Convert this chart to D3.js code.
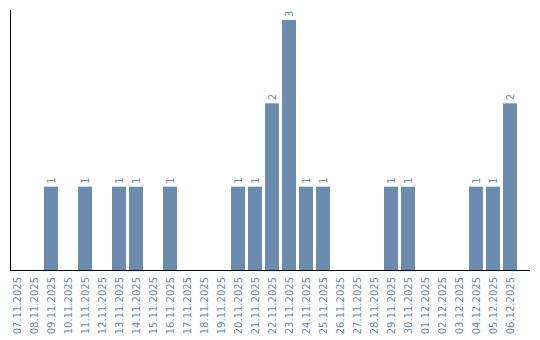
<!DOCTYPE html>
<html>
<head>
<meta charset="utf-8">
<script src="https://cdn.jsdelivr.net/npm/d3@7"></script>
<style>
  body { margin: 0; background: #fff; }
  text { font-family: "DejaVu Sans", sans-serif; font-size: 10px; fill: #6b8cae; }
</style>
</head>
<body>
<div id="chart"></div>
<script>
// dates and counts per day
var days = ["07.11.2025","08.11.2025","09.11.2025","10.11.2025","11.11.2025","12.11.2025",
  "13.11.2025","14.11.2025","15.11.2025","16.11.2025","17.11.2025","18.11.2025","19.11.2025",
  "20.11.2025","21.11.2025","22.11.2025","23.11.2025","24.11.2025","25.11.2025","26.11.2025",
  "27.11.2025","28.11.2025","29.11.2025","30.11.2025","01.12.2025","02.12.2025","03.12.2025",
  "04.12.2025","05.12.2025","06.12.2025"];
var counts = [0,0,1,0,1,0,1,1,0,1,0,0,0,1,1,2,3,1,1,0,0,0,1,1,0,0,0,1,1,2];

var width = 540, height = 340;
var barColor = "#6b8cae";

var svg = d3.select("#chart")
    .append("svg")
    .attr("width", width)
    .attr("height", height);

var x = d3.scaleBand()
    .domain(days)
    .range([10, 520])
    .paddingInner(3 / 17)
    .paddingOuter(1.5 / 17)
    .align(0);

var y = d3.scaleLinear()
    .domain([0, d3.max(counts)])
    .range([270, 20]);

var data = days.map(function(d, i) { return {day: d, value: counts[i]}; });

// bars
svg.append("g")
  .selectAll("rect")
  .data(data)
  .enter()
  .append("rect")
  .attr("x", function(d) { return x(d.day); })
  .attr("y", function(d) { return y(d.value); })
  .attr("width", x.bandwidth())
  .attr("height", function(d) { return y(0) - y(d.value); })
  .attr("fill", barColor);

// value labels (rotated, above bars)
svg.append("g")
  .selectAll("text")
  .data(data.filter(function(d) { return d.value > 0; }))
  .enter()
  .append("text")
  .attr("transform", function(d) {
      return "translate(" + (x(d.day) + x.bandwidth() / 2) + "," + (y(d.value) - 3) + ") rotate(-90)";
  })
  .attr("dy", "0.35em")
  .attr("text-anchor", "start")
  .text(function(d) { return d.value; });

// x axis tick labels
var xAxis = svg.append("g")
    .attr("transform", "translate(0,270)")
    .call(d3.axisBottom(x).tickSize(0));
xAxis.select(".domain").remove();
xAxis.selectAll("text")
    .attr("fill", barColor)
    .style("font-size", "10px")
    .style("font-family", "DejaVu Sans, sans-serif")
    .attr("text-anchor", "end")
    .attr("transform", "rotate(-90)")
    .attr("x", -7)
    .attr("y", 0)
    .attr("dy", "0.35em");

// axis lines
svg.append("line")
    .attr("x1", 10.5).attr("x2", 10.5)
    .attr("y1", 10).attr("y2", 270)
    .attr("stroke", "#000");
svg.append("line")
    .attr("x1", 10).attr("x2", 530)
    .attr("y1", 270.5).attr("y2", 270.5)
    .attr("stroke", "#000");
</script>
</body>
</html>
